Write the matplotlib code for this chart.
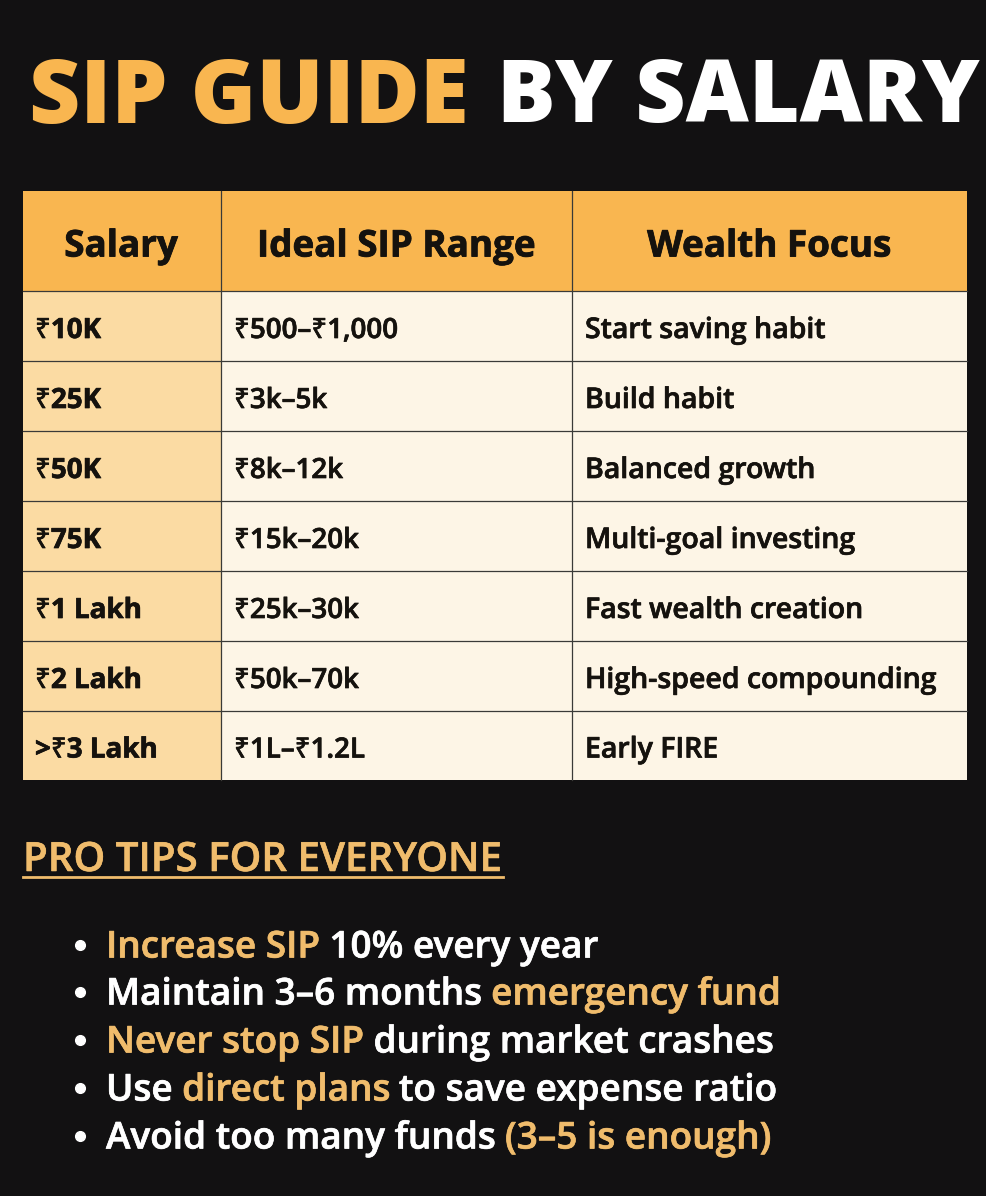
import matplotlib
matplotlib.use("Agg")
import matplotlib.pyplot as plt
from matplotlib.patches import Rectangle
import matplotlib.patheffects as pe

W, H = 986, 1196
BG = "#121112"; GOLD = "#F9B650"; CREAM = "#FDF5E6"; SAL = "#FBDBA3"; INK = "#15120E"; WHITE = "#FFFFFF"
TIP = "#F0BC6C"; LINE = "#3a3a38"

headers = ["Salary", "Ideal SIP Range", "Wealth Focus"]
salary = ["₹10K", "₹25K", "₹50K", "₹75K", "₹1 Lakh", "₹2 Lakh", ">₹3 Lakh"]
sip = ["₹500–₹1,000", "₹3k–5k", "₹8k–12k", "₹15k–20k", "₹25k–30k", "₹50k–70k", "₹1L–₹1.2L"]
focus = ["Start saving habit", "Build habit", "Balanced growth", "Multi-goal investing",
         "Fast wealth creation", "High-speed compounding", "Early FIRE"]
tips = [[("Increase SIP", TIP), (" 10% every year", WHITE)],
        [("Maintain 3–6 months ", WHITE), ("emergency fund", TIP)],
        [("Never stop SIP", TIP), (" during market crashes", WHITE)],
        [("Use ", WHITE), ("direct plans", TIP), (" to save expense ratio", WHITE)],
        [("Avoid too many funds ", WHITE), ("(3–5 is enough)", TIP)]]
col_x = [23, 221, 572, 967]
row_y = [191, 291, 361, 431, 501, 571, 641, 711, 780]
tip_y = [944, 991, 1039, 1087, 1135]

plt.rcParams["font.family"] = ["Open Sans", "Noto Sans", "DejaVu Sans"]
fig = plt.figure(figsize=(W/100, H/100), dpi=100, facecolor=BG)
ax = fig.add_axes([0, 0, 1, 1]); ax.set_xlim(0, W); ax.set_ylim(H, 0); ax.axis("off")

def T(x, y, s, size, color, weight="bold", ha="left", stroke=0.0):
    t = ax.text(x, y, s, fontsize=size, color=color, fontweight=weight, ha=ha, va="center_baseline")
    if stroke:
        t.set_path_effects([pe.withStroke(linewidth=stroke, foreground=color)])
    return t

def advance(s, size, weight):
    r = fig.canvas.get_renderer()
    a = T(0, 0, "x" + s + "x", size, INK, weight); wa = a.get_window_extent(r).width; a.remove()
    b = T(0, 0, "xx", size, INK, weight); wb = b.get_window_extent(r).width; b.remove()
    return wa - wb

def run(x, y, parts, size, weight="bold", stroke=0.0):
    for s, c in parts:
        core = s.strip()
        lead = len(s) - len(s.lstrip())
        T(x + advance(" " * lead, size, weight) if lead else x, y, core, size, c, weight, stroke=stroke)
        x += advance(s, size, weight)

T(29, 89, "SIP GUIDE", 64, GOLD, "heavy")
T(497, 89, "BY SALARY", 62.7, WHITE, "heavy")

ax.add_patch(Rectangle((col_x[0], row_y[0]), col_x[3]-col_x[0], row_y[1]-row_y[0], fc=GOLD, ec="none"))
ax.add_patch(Rectangle((col_x[0], row_y[1]), col_x[1]-col_x[0], row_y[-1]-row_y[1], fc=SAL, ec="none"))
ax.add_patch(Rectangle((col_x[1], row_y[1]), col_x[3]-col_x[1], row_y[-1]-row_y[1], fc=CREAM, ec="none"))
for y in row_y[1:-1]:
    ax.plot([col_x[0], col_x[3]], [y, y], color=LINE, lw=0.9)
for x in col_x[1:3]:
    ax.plot([x, x], [row_y[0], row_y[-1]], color=LINE, lw=0.9)

header_cx = [121, 396, 769]
for cx, h in zip(header_cx, headers):
    T(cx, 242, h, 26.5, INK, "bold", "center", stroke=0.6)
for i in range(7):
    y = (row_y[i+1]+row_y[i+2])/2 + 1
    T(35, y, salary[i], 20, INK, "bold", stroke=0.5)
    T(234, y, sip[i], 20, INK, "semibold", stroke=0.5)
    T(585, y, focus[i], 20.5, INK, "semibold", stroke=0.5)

T(23, 856, "PRO TIPS FOR EVERYONE", 29, TIP, "semibold", stroke=0.4)
ax.plot([23, 503], [877, 877], color=TIP, lw=2)

for y, parts in zip(tip_y, tips):
    ax.plot([80], [y + 1], "o", color=WHITE, ms=7)
    run(106, y, parts, 26.6, "semibold", 0.5)

fig.savefig("out.png", dpi=100, facecolor=BG)
